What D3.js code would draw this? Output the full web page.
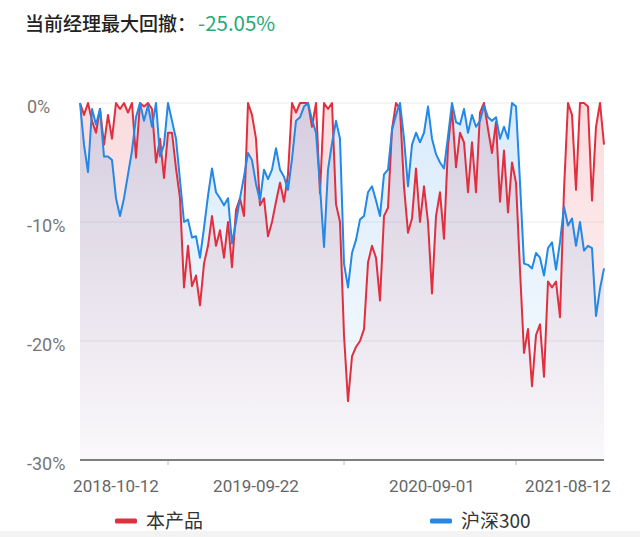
<!DOCTYPE html>
<html>
<head>
<meta charset="utf-8">
<script src="https://cdn.jsdelivr.net/npm/d3@7"></script>
<style>
  body { margin: 0; background: #fff; }
  svg { display: block; }
</style>
</head>
<body>
<div id="chart"></div>
<script>
// drawdown values (%), one point per period
const productDD = [
  0, -1, 0, -1.5, -2.5, -0.5, -3.5, -1, -3, 0,
  -0.5, 0, -0.8, 0, -4.6, 0, -0.3, 0, -0.5, -5,
  -3, -6.3, -2.5, -2.5, -5.5, -8, -15.5, -12, -15.4, -14.5,
  -17, -13.5, -12, -9.5, -12, -10.7, -13, -10, -13.8, -9,
  -8, -9.5, 0, -1, -3, -8.6, -8, -11.2, -10, -8.3,
  -6.7, -8.3, -6, 0, -0.8, 0, 0, 0, -2, 0,
  -7.6, 0, -0.5, 0, -8.5, -10, -19.5, -25.05, -21.3, -20.5,
  -20, -19, -13.4, -12, -13, -16.6, -9.5, -8.8, -2.2, 0,
  -0.5, -7, -10.9, -9.7, -5.5, -10, -7, -10, -16, -9.5,
  -7.5, -11.4, -3.6, -0.5, -5.4, -2.5, -3.3, -7.5, -3.3, -7.5,
  -0.8, 0, -2.2, -4.2, -1.6, -8.3, -4, -9.2, -5, -6.7,
  -14, -21, -19, -23.8, -19.5, -18.6, -23, -15, -15.5, -15,
  -18, -7.3, 0, -1, -7.3, 0, 0, -0.3, -8.2, -2,
  0, -3.5
];
const hs300DD = [
  0, -3.5, -5.8, -0.5, -1.8, -0.5, -4.5, -4.5, -4.8, -8,
  -9.5, -8, -6, -4, -1.2, 0, -1.5, -0.2, -2, 0,
  -4.5, -3.5, 0, -1.5, -3, -6.5, -10, -9.8, -11.3, -11.2,
  -13, -10.5, -7.8, -5.5, -7.5, -8, -8.6, -8, -11.8, -10,
  -8, -6.2, -4.2, -4.8, -6.8, -8.2, -5.6, -6.4, -5.6, -3.8,
  -5.6, -6.2, -7.3, -4.7, -1.5, -1.2, -0.3, 0, -1.4, -2.5,
  -7, -12.1, -5.6, -3.4, -1.5, -3, -13.5, -15.5, -12.6, -11.5,
  -9.8, -9.5, -7.5, -7, -8.2, -9.5, -6, -5.6, -2.3, -1,
  0, -3, -7, -3.5, -2.5, -3.3, -2.5, -0.3, -3, -4.3,
  -5, -5.5, -2.8, 0, -1.6, -1.8, -0.5, -2.5, -1, -2,
  -1.5, -0.2, -1.2, -1.5, -1.2, -3, -2, -3, 0, -0.3,
  -6.7, -13.5, -13.6, -13.9, -12.6, -13, -14.5, -12.2, -11.7, -14,
  -11.7, -8.7, -10.3, -9.7, -12, -10, -12.4, -12, -12.2, -17.9,
  -15.6, -13.9
];
const seriesNames = ["本产品", "沪深300"];
const seriesColors = ["#e02f3e", "#2388e6"];
const yTicks = [0, -10, -20, -30];
const xLabels = ["2018-10-12", "2019-09-22", "2020-09-01", "2021-08-12"];
const xLabelIdx = [9, 44, 88, 122];
const xTickIdx = [22, 66, 109];
const maxDD = -25.05;

const width = 640, height = 537;
const plot = {left: 80, right: 604, top: 103, bottom: 460};

const svg = d3.select("#chart")
  .append("svg")
    .attr("width", width)
    .attr("height", height)
    .attr("viewBox", `0 0 ${width} ${height}`);

const x = d3.scaleLinear()
    .domain([0, productDD.length - 1])
    .range([plot.left, plot.right]);
const y = d3.scaleLinear()
    .domain([-30, 0])
    .range([plot.bottom, plot.top]);

// title
const title = svg.append("text")
    .attr("x", 25)
    .attr("y", 31)
    .style("font-family", "'Noto Sans CJK SC', 'Noto Sans', sans-serif")
    .style("font-size", "19px")
    .style("font-weight", 500)
    .style("fill", "#222");
title.append("tspan").text("当前经理最大回撤：");
title.append("tspan")
    .attr("dx", 2)
    .style("fill", "#27a978")
    .style("font-weight", 400)
    .style("font-size", "20.5px")
    .text(maxDD.toFixed(2) + "%");

// gradients for the areas
const defs = svg.append("defs");
seriesColors.forEach((c, k) => {
  const g = defs.append("linearGradient")
      .attr("id", "grad" + k)
      .attr("gradientUnits", "userSpaceOnUse")
      .attr("x1", 0).attr("x2", 0)
      .attr("y1", plot.top).attr("y2", plot.bottom);
  g.append("stop").attr("offset", 0).attr("stop-color", c).attr("stop-opacity", 0.17);
  g.append("stop").attr("offset", 1).attr("stop-color", c).attr("stop-opacity", 0.02);
});

// grid lines
svg.append("g")
  .selectAll("line")
  .data(yTicks.filter(d => d !== -30))
  .join("line")
    .attr("x1", plot.left)
    .attr("x2", plot.right)
    .attr("y1", d => y(d))
    .attr("y2", d => y(d))
    .attr("stroke", "#ececec")
    .attr("stroke-width", 1);

// y labels
svg.append("g")
  .selectAll("text")
  .data(yTicks)
  .join("text")
    .attr("x", 27)
    .attr("y", d => y(d) + 10)
    .style("font-family", "Roboto, 'Noto Sans', sans-serif")
    .style("font-size", "18px")
    .style("fill", "#777")
    .text(d => d + "%");

// areas + lines
const area = d3.area()
    .x((d, i) => x(i))
    .y0(y(-30))
    .y1(d => y(d));
const line = d3.line()
    .x((d, i) => x(i))
    .y(d => y(d));

const series = [productDD, hs300DD];
svg.append("g")
  .selectAll("path")
  .data(series)
  .join("path")
    .attr("d", area)
    .attr("fill", (d, k) => `url(#grad${k})`);
svg.append("g")
  .selectAll("path")
  .data(series)
  .join("path")
    .attr("d", line)
    .attr("fill", "none")
    .attr("stroke", (d, k) => seriesColors[k])
    .attr("stroke-width", 2)
    .attr("stroke-linejoin", "round");

// x axis
svg.append("line")
    .attr("x1", plot.left)
    .attr("x2", plot.right)
    .attr("y1", y(-30))
    .attr("y2", y(-30))
    .attr("stroke", "#555")
    .attr("stroke-width", 1.5);
svg.append("g")
  .selectAll("line")
  .data(xTickIdx)
  .join("line")
    .attr("x1", d => x(d))
    .attr("x2", d => x(d))
    .attr("y1", y(-30) + 1)
    .attr("y2", y(-30) + 5)
    .attr("stroke", "#bbb")
    .attr("stroke-width", 1);
svg.append("g")
  .selectAll("text")
  .data(xLabels)
  .join("text")
    .attr("x", (d, i) => x(xLabelIdx[i]))
    .attr("y", 492)
    .attr("text-anchor", "middle")
    .style("font-family", "Roboto, 'Noto Sans', sans-serif")
    .style("font-size", "17px")
    .style("fill", "#666")
    .text(d => d);

// legend
const legendX = [115, 430];
const legend = svg.append("g")
  .selectAll("g")
  .data(seriesNames)
  .join("g")
    .attr("transform", (d, i) => `translate(${legendX[i]},521)`);
legend.append("rect")
    .attr("x", 0)
    .attr("y", -2.5)
    .attr("width", 22)
    .attr("height", 5)
    .attr("rx", 1.5)
    .attr("fill", (d, i) => seriesColors[i]);
legend.append("text")
    .attr("x", 31)
    .attr("y", 7)
    .style("font-family", "'Noto Sans CJK SC', 'Noto Sans', sans-serif")
    .style("font-size", "19px")
    .style("fill", "#333")
    .text(d => d);

// bottom strip
svg.append("rect")
    .attr("x", 0)
    .attr("y", 531)
    .attr("width", width)
    .attr("height", height - 531)
    .attr("fill", "#f3f3f3");
</script>
</body>
</html>
